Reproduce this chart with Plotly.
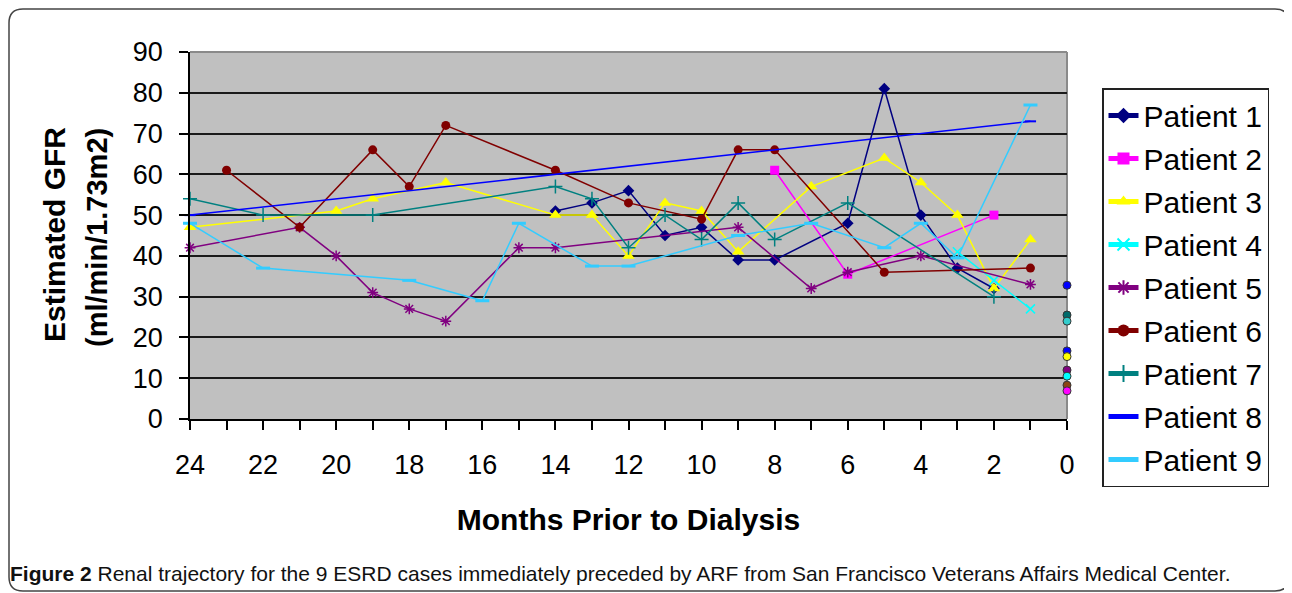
import plotly.graph_objects as go

# ---------------- data ----------------
patients = ["Patient 1", "Patient 2", "Patient 3", "Patient 4", "Patient 5",
            "Patient 6", "Patient 7", "Patient 8", "Patient 9"]

p1_months = [14, 13, 12, 11, 10, 9, 8, 6, 5, 4, 3, 2]
p1_gfr = [51, 53, 56, 45, 47, 39, 39, 48, 81, 50, 37, 32]

p2_months = [8, 6, 2]
p2_gfr = [61, 35.5, 50]

p3_months = [24, 20, 19, 17, 14, 13, 12, 11, 10, 9, 7, 5, 4, 3, 2, 1]
p3_gfr = [47, 51, 54, 58, 50, 50, 40, 53, 51, 41, 57, 64, 58, 50, 32, 44]

p4_months = [3, 2, 1]
p4_gfr = [41, 34, 27]

p5_months = [24, 21, 20, 19, 18, 17, 15, 14, 9, 7, 6, 4, 1]
p5_gfr = [42, 47, 40, 31, 27, 24, 42, 42, 47, 32, 36, 40, 33]

p6_months = [23, 21, 19, 18, 17, 14, 12, 10, 9, 8, 5, 1]
p6_gfr = [61, 47, 66, 57, 72, 61, 53, 49, 66, 66, 36, 37]

p7_months = [24, 22, 19, 14, 13, 12, 11, 10, 9, 8, 6, 2]
p7_gfr = [54, 50, 50, 57, 54, 42, 50, 44, 53, 44, 53, 30]

p8_months = [24, 1]
p8_gfr = [50, 73]

p9_months = [24, 22, 18, 16, 15, 13, 12, 9, 7, 5, 4, 3, 1]
p9_gfr = [48, 37, 34, 29, 48, 37.5, 37.5, 45, 48, 42, 48, 39.5, 77]

# GFR at dialysis start (month 0), separate dots
dialysis_gfr = [32.8, 25.5, 24.0, 16.7, 15.3, 12.0, 10.5, 8.3, 6.9]
dialysis_colors = ["#0000FF", "#006B6B", "#33CCCC", "#0000FF", "#FFFF00",
                   "#800080", "#00FFFF", "#8B4513", "#FF00FF"]

x_tick_vals = list(range(0, 25))
x_tick_text = [str(v) if v % 2 == 0 else "" for v in x_tick_vals]
y_tick_vals = [0, 10, 20, 30, 40, 50, 60, 70, 80, 90]

series_months = [p1_months, p2_months, p3_months, p4_months, p5_months,
                 p6_months, p7_months, p8_months, p9_months]
series_gfr = [p1_gfr, p2_gfr, p3_gfr, p4_gfr, p5_gfr,
              p6_gfr, p7_gfr, p8_gfr, p9_gfr]

# ---------------- styles ----------------
colors = ["#000080", "#FF00FF", "#FFFF00", "#00FFFF", "#800080",
          "#800000", "#008080", "#0000FF", "#33CCFF"]
symbols = ["diamond", "square", "triangle-up", "x-thin-open", "asterisk-open",
           "circle", "cross-thin-open", "line-ew-open", "line-ew-open"]
msizes = [9, 9, 11, 9, 9, 9, 10, 8, 10]
mlinew = [0, 0, 0, 1.5, 1.5, 0, 1.5, 2, 3]

fig = go.Figure()
for i, name in enumerate(patients):
    fig.add_trace(go.Scatter(
        x=series_months[i], y=series_gfr[i], name=name,
        mode="lines+markers", legendgroup=name,
        line=dict(color=colors[i], width=1.5),
        marker=dict(symbol=symbols[i], size=msizes[i], color=colors[i],
                    line=dict(color=colors[i], width=mlinew[i])),
        cliponaxis=False,
    ))

fig.add_trace(go.Scatter(
    x=[0] * len(dialysis_gfr), y=dialysis_gfr, mode="markers",
    showlegend=False, cliponaxis=False,
    marker=dict(symbol="circle", size=8, color=dialysis_colors,
                line=dict(color="#333333", width=1)),
))

# ---------------- layout ----------------
# the page body has an 8px margin, so figure coords = reference coords - 8
OFF = 8
W, H = 1284, 585
L, R, T, B = 190 - OFF, 1067 - OFF, 52 - OFF, 419 - OFF


def px_x(px):
    return (px - OFF - L) / (R - L)


def px_y(py):
    return (B - (py - OFF)) / (B - T)


def fx(px):
    return (px - L) / (R - L)


def fy(py):
    return (B - py) / (B - T)


def rounded_box(x0, y0, x1, y1, r):
    pts = [
        f"M {fx(x0 + r)},{fy(y0)}",
        f"L {fx(x1 - r)},{fy(y0)}",
        f"Q {fx(x1)},{fy(y0)} {fx(x1)},{fy(y0 + r)}",
        f"L {fx(x1)},{fy(y1 - r)}",
        f"Q {fx(x1)},{fy(y1)} {fx(x1 - r)},{fy(y1)}",
        f"L {fx(x0 + r)},{fy(y1)}",
        f"Q {fx(x0)},{fy(y1)} {fx(x0)},{fy(y1 - r)}",
        f"L {fx(x0)},{fy(y0 + r)}",
        f"Q {fx(x0)},{fy(y0)} {fx(x0 + r)},{fy(y0)}",
        "Z",
    ]
    return " ".join(pts)


font_main = "Liberation Sans, Arial, sans-serif"

fig.update_layout(
    width=W, height=H, autosize=False,
    margin=dict(l=L, r=W - R, t=T, b=H - B, pad=0),
    paper_bgcolor="white", plot_bgcolor="#C0C0C0",
    font=dict(family=font_main, color="black"),
    showlegend=True,
    legend=dict(
        x=px_x(1102), y=px_y(88), xanchor="left", yanchor="top",
        bgcolor="white", bordercolor="#222222", borderwidth=1.5,
        font=dict(size=30, family=font_main, color="black"),
        tracegroupgap=1, itemsizing="constant", maxheight=470,
        entrywidth=173,
    ),
    xaxis=dict(
        range=[24, 0], tickmode="array", tickvals=x_tick_vals, ticktext=x_tick_text,
        ticks="outside", ticklen=9, tickwidth=1.5, tickcolor="black",
        showline=True, linecolor="black", linewidth=1.5,
        showgrid=False, zeroline=False,
        tickfont=dict(size=27, family=font_main, color="black"),
        ticklabelstandoff=12,
        title=dict(text="<b>Months Prior to Dialysis</b>",
                   font=dict(size=30, family=font_main, color="black"), standoff=30),
    ),
    yaxis=dict(
        range=[0, 90], tickmode="array", tickvals=y_tick_vals,
        ticks="outside", ticklen=9, tickwidth=1.5, tickcolor="black",
        showline=True, linecolor="black", linewidth=1.5,
        showgrid=True, gridcolor="#1a1a1a", gridwidth=1.5, zeroline=False,
        tickfont=dict(size=27, family=font_main, color="black"),
        ticklabelstandoff=11,
    ),
    shapes=[
        # plot-area border (top / right) in grey
        dict(type="line", xref="paper", yref="paper", x0=0, x1=1, y0=1, y1=1,
             line=dict(color="#8a8a8a", width=2), layer="above"),
        dict(type="line", xref="paper", yref="paper", x0=1, x1=1, y0=0, y1=1,
             line=dict(color="#8a8a8a", width=2), layer="below"),
        # outer rounded frame (figure pixel coordinates)
        dict(type="path", xref="paper", yref="paper",
             path=rounded_box(1, 1, W - 3, H - 2, 14),
             line=dict(color="#444444", width=1.5), layer="below"),
    ],
    annotations=[
        dict(text="<b>Estimated GFR</b>", xref="paper", yref="paper",
             x=px_x(54), y=px_y(235), textangle=-90, showarrow=False,
             xanchor="center", yanchor="middle",
             font=dict(size=30, family=font_main, color="black")),
        dict(text="<b>(ml/min/1.73m2)</b>", xref="paper", yref="paper",
             x=px_x(97), y=px_y(238), textangle=-90, showarrow=False,
             xanchor="center", yanchor="middle",
             font=dict(size=29, family=font_main, color="black")),
        dict(text="<b>Figure 2</b> Renal trajectory for the 9 ESRD cases immediately "
                  "preceded by ARF from San Francisco Veterans Affairs Medical Center.",
             xref="paper", yref="paper", x=px_x(8), y=px_y(573),
             xanchor="left", yanchor="middle", showarrow=False,
             font=dict(size=21, family=font_main, color="#111111")),
    ],
)

fig.write_html("out.html")
